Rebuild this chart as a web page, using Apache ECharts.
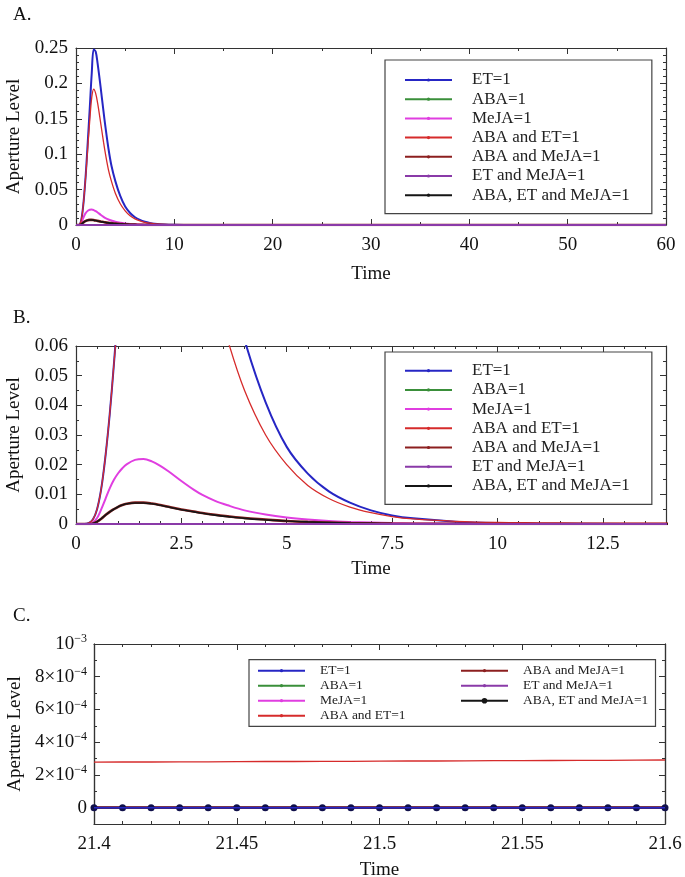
<!DOCTYPE html>
<html>
<head>
<meta charset="utf-8">
<script src="https://cdn.jsdelivr.net/npm/echarts@6/dist/echarts.min.js"></script>
<style>html,body{margin:0;padding:0;background:#fff}#c{width:685px;height:877px}</style>
</head>
<body>
<div id="c"></div>
<script>
// ---------- DATA ----------
const seriesNames = ['ET=1','ABA=1','MeJA=1','ABA and ET=1','ABA and MeJA=1','ET and MeJA=1','ABA, ET and MeJA=1'];
const timeAB = [0,0.2,0.3,0.4,0.5,0.6,0.7,0.8,0.9,1.0,1.1,1.2,1.4,1.6,1.8,2.0,2.2,2.5,2.8,3.0,3.3,3.6,4.0,4.5,5.0,5.5,6.0,6.5,7.0,7.5,8.0,9.0,10,11,12,14,20,30,40,50,60];
const etAB = [0,0,0.0003,0.0015,0.005,0.012,0.023,0.037,0.054,0.073,0.095,0.118,0.165,0.214,0.248,0.245,0.228,0.195,0.16,0.138,0.108,0.084,0.062,0.041,0.026,0.017,0.011,0.0072,0.0046,0.0029,0.0019,0.0008,0.0003,0.0001,0.00005,0.00001,0,0,0,0,0];
const abaAB = [0,0,0,0,0,0,0,0,0,0,0,0,0,0,0,0,0,0,0,0,0,0,0,0,0,0,0,0,0,0,0,0,0,0,0,0,0,0,0,0,0];
const mejaAB = [0,0,0,0.0005,0.002,0.005,0.0085,0.012,0.0149,0.0171,0.0188,0.0201,0.0216,0.0219,0.0211,0.0196,0.0177,0.0145,0.0115,0.0098,0.0078,0.0063,0.0046,0.0032,0.0022,0.0015,0.001,0.0007,0.0005,0.0003,0.0002,0.0001,0.00005,0,0,0,0,0,0,0,0];
const abaEtAB = [0,0,0.0003,0.0015,0.005,0.012,0.023,0.037,0.054,0.071,0.09,0.11,0.148,0.18,0.192,0.186,0.172,0.145,0.117,0.1,0.078,0.062,0.045,0.03,0.02,0.013,0.0086,0.0057,0.0038,0.0025,0.0017,0.0009,0.0005,0.0004,0.0003,0.0003,0.00028,0.0003,0.0003,0.0003,0.0003];
const abaMejaAB = [0,0,0,0.0002,0.0008,0.0018,0.003,0.0041,0.005,0.0058,0.0064,0.0068,0.0072,0.0072,0.0069,0.0064,0.0058,0.0049,0.0042,0.0037,0.0031,0.0026,0.002,0.0015,0.001,0.0007,0.0005,0.0003,0.0002,0.00012,0.00008,0.00003,0,0,0,0,0,0,0,0,0];
const etMejaAB = [0,0,0,0,0,0,0,0,0,0,0,0,0,0,0,0,0,0,0,0,0,0,0,0,0,0,0,0,0,0,0,0,0,0,0,0,0,0,0,0,0];
const allAB = [0,0,0,0.0002,0.0008,0.0018,0.003,0.0041,0.005,0.0058,0.0064,0.0068,0.0071,0.0071,0.0068,0.0063,0.0057,0.0048,0.0041,0.0036,0.003,0.0025,0.0019,0.0014,0.001,0.0007,0.0005,0.0003,0.0002,0.00012,0.00008,0.00003,0,0,0,0,0,0,0,0,0];

const timeC = [21.40,21.41,21.42,21.43,21.44,21.45,21.46,21.47,21.48,21.49,21.50,21.51,21.52,21.53,21.54,21.55,21.56,21.57,21.58,21.59,21.60];
const etC = [0,0,0,0,0,0,0,0,0,0,0,0,0,0,0,0,0,0,0,0,0];
const abaC = [0,0,0,0,0,0,0,0,0,0,0,0,0,0,0,0,0,0,0,0,0];
const mejaC = [0,0,0,0,0,0,0,0,0,0,0,0,0,0,0,0,0,0,0,0,0];
const abaEtC = [0.000278,0.000279,0.000279,0.00028,0.00028,0.000281,0.000282,0.000282,0.000283,0.000283,0.000284,0.000285,0.000285,0.000286,0.000287,0.000287,0.000288,0.000289,0.000289,0.00029,0.000291];
const abaMejaC = [0,0,0,0,0,0,0,0,0,0,0,0,0,0,0,0,0,0,0,0,0];
const etMejaC = [0,0,0,0,0,0,0,0,0,0,0,0,0,0,0,0,0,0,0,0,0];
const allC = [0,0,0,0,0,0,0,0,0,0,0,0,0,0,0,0,0,0,0,0,0];

const yTicksC = [0,0.0002,0.0004,0.0006,0.0008,0.001];

// ---------- STYLE ----------
const FONT = "'Liberation Serif','Times New Roman',serif";
const colors = ['#2626c4','#3a8f3a','#e03ee0','#d62b2b','#8c1f1f','#8a3aa8','#151515'];
const widths = [2,2,2,1.3,2.6,2,1.6];
const AX = '#333';

function pair(xs, ys) { return xs.map((x, i) => [x, ys[i]]); }

function xAxes(grid, min, max, interval, minorSplit, nameGap, extra) {
  const base = {
    type: 'value', gridIndex: grid, min, max, interval,
    axisLine: {show: true, onZero: false, lineStyle: {color: AX, width: 1.2}},
    axisTick: {show: true, inside: true, length: 6, lineStyle: {color: AX}},
    minorTick: {show: true, splitNumber: minorSplit, length: 3, lineStyle: {color: AX}},
    splitLine: {show: false}
  };
  return [
    Object.assign({}, base, {
      position: 'bottom',
      name: 'Time', nameLocation: 'middle', nameGap,
      nameTextStyle: {fontSize: 19, fontFamily: FONT, color: '#111'},
      axisLabel: Object.assign({fontSize: 19, fontFamily: FONT, color: '#111', margin: 11}, extra || {})
    }),
    Object.assign({}, base, {position: 'top', axisLabel: {show: false}})
  ];
}
function yAxes(grid, min, max, interval, minorSplit, nameGap) {
  const base = {
    type: 'value', gridIndex: grid, min, max, interval,
    axisLine: {show: true, onZero: false, lineStyle: {color: AX, width: 1.2}},
    axisTick: {show: true, inside: true, length: 6, lineStyle: {color: AX}},
    minorTick: {show: true, splitNumber: minorSplit, length: 3, lineStyle: {color: AX}},
    splitLine: {show: false}
  };
  return [
    Object.assign({}, base, {
      position: 'left',
      name: 'Aperture Level', nameLocation: 'middle', nameGap,
      nameTextStyle: {fontSize: 19, fontFamily: FONT, color: '#111'},
      axisLabel: {fontSize: 19, fontFamily: FONT, color: '#111', margin: 8}
    }),
    Object.assign({}, base, {position: 'right', axisLabel: {show: false}})
  ];
}

const xAxis = [].concat(
  xAxes(0, 0, 60, 10, 2, 40),
  xAxes(1, 0, 14, 2.5, 5, 36, {showMaxLabel: false}),
  xAxes(2, 21.4, 21.6, 0.05, 5, 37)
);
const yAxis = [].concat(
  yAxes(0, 0, 0.25, 0.05, 5, 51),
  yAxes(1, 0, 0.06, 0.01, 2, 51)
);
// Panel C y axes: major ticks/labels from custom values, minor ticks from a second axis
const cYBase = {
  type: 'value', gridIndex: 2, min: -0.0001, max: 0.001, interval: 0.0001,
  axisLine: {show: true, onZero: false, lineStyle: {color: AX, width: 1.2}},
  splitLine: {show: false}
};
yAxis.push(Object.assign({}, cYBase, {
  position: 'left',
  name: 'Aperture Level', nameLocation: 'middle', nameGap: 69,
  nameTextStyle: {fontSize: 19, fontFamily: FONT, color: '#111'},
  axisTick: {show: true, inside: true, length: 6, lineStyle: {color: AX}, customValues: yTicksC},
  axisLabel: {
    customValues: yTicksC, margin: 7,
    formatter: function (v) {
      if (Math.abs(v) < 1e-12) return '{m|0}';
      if (Math.abs(v - 0.001) < 1e-12) return '{m|10}{s|−3}';
      return '{m|' + Math.round(v / 0.0001) + '×10}{s|−4}';
    },
    rich: {
      m: {fontSize: 19, fontFamily: FONT, color: '#111', lineHeight: 22},
      s: {fontSize: 12, fontFamily: FONT, color: '#111', verticalAlign: 'top', lineHeight: 12}
    }
  }
}));
yAxis.push(Object.assign({}, cYBase, {position: 'left', axisLabel: {show: false}, axisTick: {show: true, inside: true, length: 3, lineStyle: {color: AX}}}));
yAxis.push(Object.assign({}, cYBase, {position: 'right', axisLabel: {show: false}, axisTick: {show: true, inside: true, length: 6, lineStyle: {color: AX}, customValues: yTicksC}}));
yAxis.push(Object.assign({}, cYBase, {position: 'right', axisLabel: {show: false}, axisTick: {show: true, inside: true, length: 3, lineStyle: {color: AX}}}));

const abData = [etAB, abaAB, mejaAB, abaEtAB, abaMejaAB, etMejaAB, allAB];
const cData = [etC, abaC, mejaC, abaEtC, abaMejaC, etMejaC, allC];
const series = [];
[0, 1].forEach(function (g) {
  seriesNames.forEach(function (name, i) {
    series.push({
      type: 'line', name, xAxisIndex: g * 2, yAxisIndex: g * 2,
      data: pair(timeAB, abData[i]),
      smooth: 0.35,
      symbol: 'circle', symbolSize: 3, showSymbol: false,
      lineStyle: {color: colors[i], width: widths[i]},
      itemStyle: {color: colors[i]},
      z: i === 5 ? 3 : 2
    });
  });
});
seriesNames.forEach(function (name, i) {
  const isAll = i === 6;
  series.push({
    type: 'line', name, xAxisIndex: 4, yAxisIndex: 4,
    data: pair(timeC, cData[i]),
    symbol: 'circle', symbolSize: isAll ? 7 : 3, showSymbol: isAll,
    lineStyle: {color: colors[i], width: i === 0 ? 1.5 : widths[i]},
    itemStyle: {color: isAll ? '#10104a' : colors[i]},
    z: i === 0 ? 4 : 2
  });
});

const legendText = {fontSize: 17, fontFamily: FONT, color: '#222', lineHeight: 19.2, padding: [0, 0, 0, 15]};
const legendTextC = {fontSize: 13.5, fontFamily: FONT, color: '#222', lineHeight: 15, padding: [0, 0, 0, 10]};

const option = {
  animation: false,
  backgroundColor: '#fff',
  title: [
    {text: 'A.', left: 8, top: 1, textStyle: {fontSize: 19, fontWeight: 'normal', fontFamily: FONT, color: '#111'}},
    {text: 'B.', left: 8, top: 304, textStyle: {fontSize: 19, fontWeight: 'normal', fontFamily: FONT, color: '#111'}},
    {text: 'C.', left: 8, top: 602, textStyle: {fontSize: 19, fontWeight: 'normal', fontFamily: FONT, color: '#111'}}
  ],
  grid: [
    {left: 76, top: 48, width: 590, height: 177, outerBoundsMode: 'none', containLabel: false},
    {left: 76, top: 346, width: 590, height: 178, outerBoundsMode: 'none', containLabel: false},
    {left: 94, top: 644, width: 571, height: 180, outerBoundsMode: 'none', containLabel: false}
  ],
  xAxis, yAxis, series,
  legend: [
    {data: seriesNames, left: 385, top: 60, orient: 'vertical', itemWidth: 47, itemHeight: 4, itemGap: 0,
     padding: [10.4, 22, 8.9, 19], borderColor: '#444', borderWidth: 1.2, backgroundColor: '#fff',
     selectedMode: false, textStyle: legendText},
    {data: seriesNames, left: 385, top: 352, orient: 'vertical', itemWidth: 47, itemHeight: 4, itemGap: 0,
     padding: [9.1, 22, 8.9, 19], borderColor: '#444', borderWidth: 1.2, backgroundColor: '#fff',
     selectedMode: false, textStyle: legendText},
    {data: seriesNames.slice(0, 4), left: 257, top: 663.2, orient: 'vertical', itemWidth: 47, itemHeight: 4, itemGap: 0,
     padding: 0, selectedMode: false, textStyle: legendTextC},
    {data: seriesNames.slice(4, 6), left: 460, top: 663.2, orient: 'vertical', itemWidth: 47, itemHeight: 4, itemGap: 0,
     padding: 0, selectedMode: false, textStyle: legendTextC},
    {data: seriesNames.slice(6), left: 460, top: 693.2, orient: 'vertical', itemWidth: 47, itemHeight: 7, itemGap: 0,
     padding: 0, selectedMode: false, textStyle: legendTextC}
  ],
  graphic: [
    {type: 'rect', z: 1, shape: {x: 249, y: 659.7, width: 406.5, height: 66.6},
     style: {fill: '#fff', stroke: '#444', lineWidth: 1.2}}
  ]
};

const chart = echarts.init(document.getElementById('c'), null, {renderer: 'canvas'});
chart.setOption(option);
</script>
</body>
</html>
